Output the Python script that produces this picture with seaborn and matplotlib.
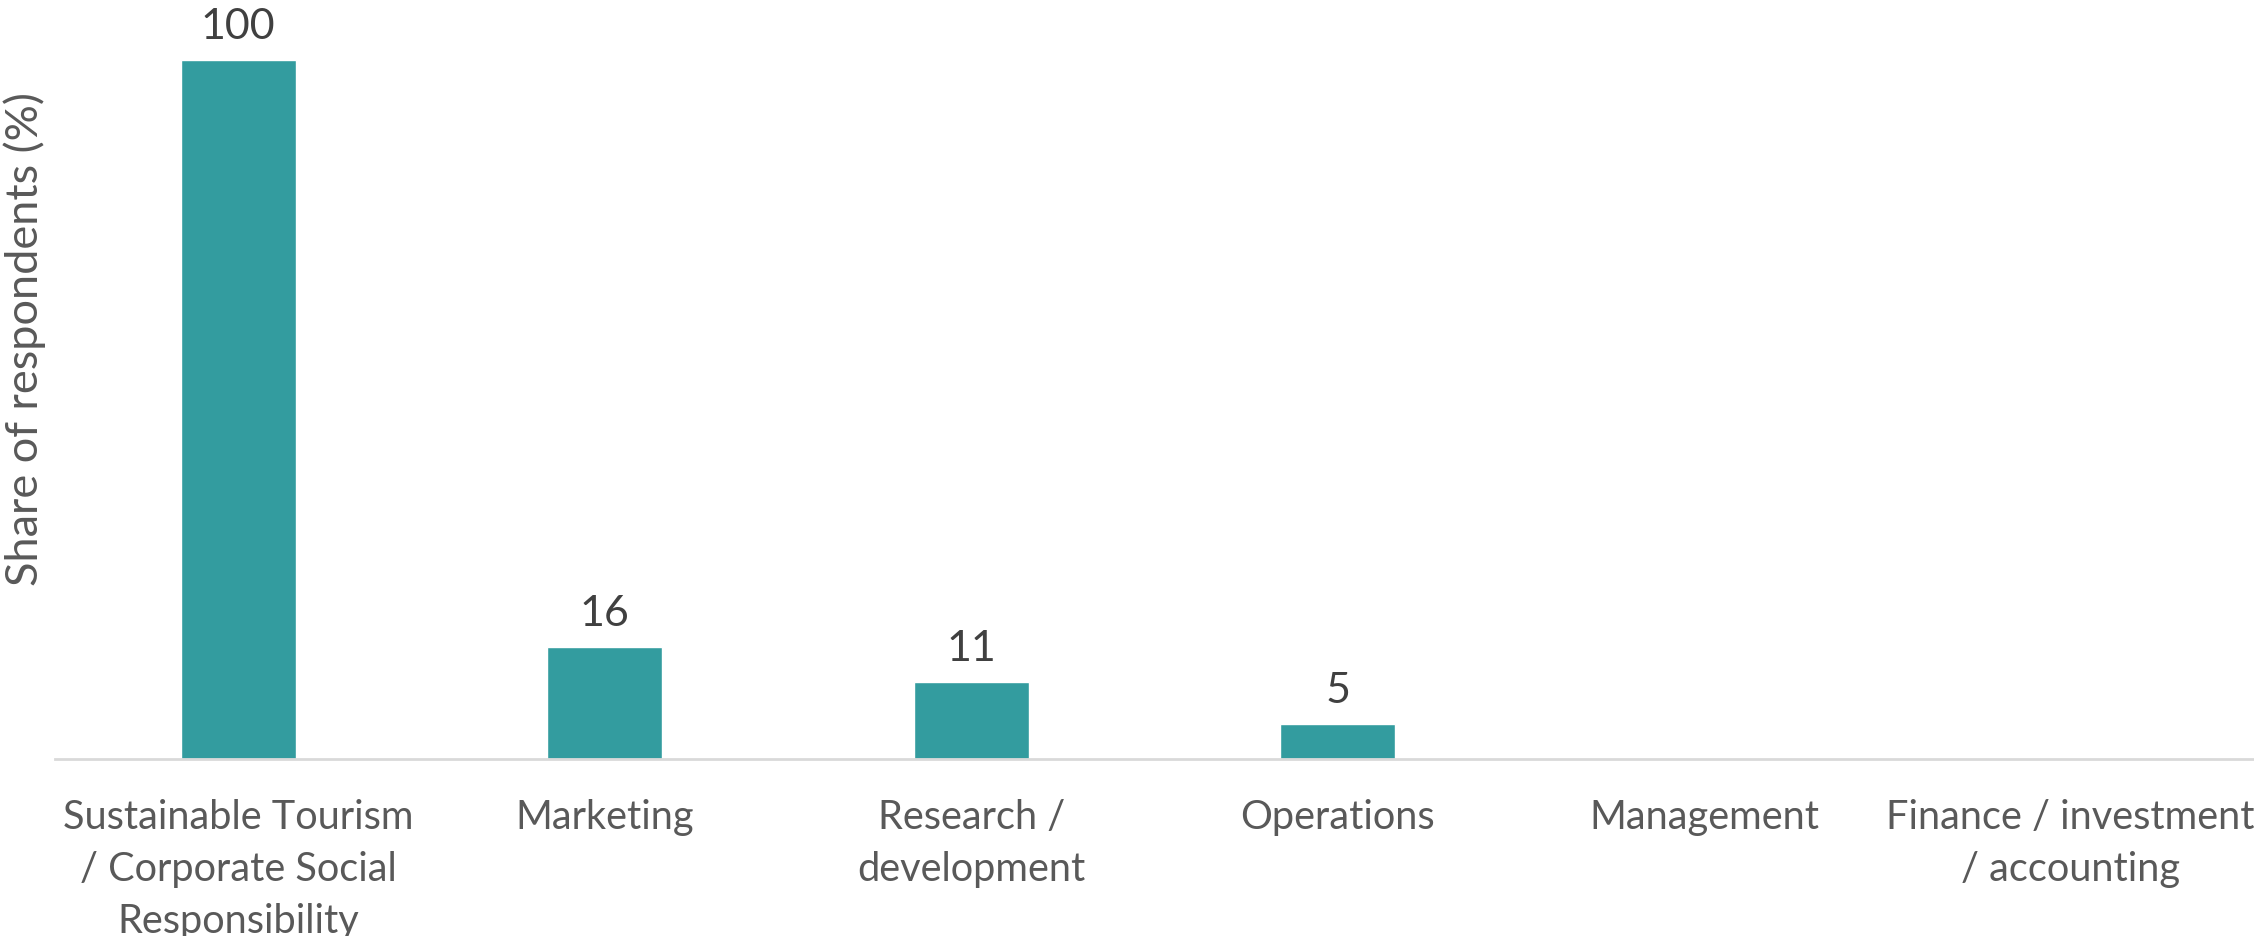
import matplotlib
matplotlib.use("Agg")
import matplotlib.pyplot as plt
import seaborn as sns
import pandas as pd

categories = [
    "Sustainable Tourism\n/ Corporate Social\nResponsibility",
    "Marketing",
    "Research /\ndevelopment",
    "Operations",
    "Management",
    "Finance / investment\n/ accounting",
]
shares = [100, 16, 11, 5, 0, 0]
value_labels = ["100", "16", "11", "5", "", ""]

sns.set_theme(style="white")
plt.rcParams["font.family"] = ["Lato", "DejaVu Sans"]

W, H, DPI = 2254, 936, 100
fig = plt.figure(figsize=(W / DPI, H / DPI), dpi=DPI)
left, right, bottom, top = 55, 2254, 759, 60
ax = fig.add_axes([left / W, 1 - bottom / H, (right - left) / W, (bottom - top) / H])

df = pd.DataFrame({"category": categories, "share": shares})
sns.barplot(data=df, x="category", y="share", color="#339C9F", saturation=1,
            width=0.313, ax=ax)

ax.set_xlim(-0.5, 5.5)
ax.set_ylim(0, 100)
ax.set_yticks([])
ax.set_xlabel("")
ax.set_ylabel("Share of respondents (%)", fontsize=32.5, color="#595959",
              va="center")
ax.yaxis.set_label_coords(-0.0136, 0.601)

for s in ["top", "right", "left"]:
    ax.spines[s].set_visible(False)
ax.spines["bottom"].set_color("#D9D9D9")
ax.spines["bottom"].set_linewidth(2)

ax.tick_params(axis="x", length=0, pad=29, labelsize=28.6, labelcolor="#595959")
for lbl in ax.get_xticklabels():
    lbl.set_linespacing(1.49)
    lbl.set_verticalalignment("top")

for bar, txt in zip(ax.patches, value_labels):
    if txt:
        ax.annotate(txt, (bar.get_x() + bar.get_width() / 2, bar.get_height()),
                    xytext=(0, 15), textcoords="offset points",
                    ha="center", va="baseline", fontsize=31, color="#404040",
                    annotation_clip=False)

fig.savefig("out.png", dpi=DPI)
